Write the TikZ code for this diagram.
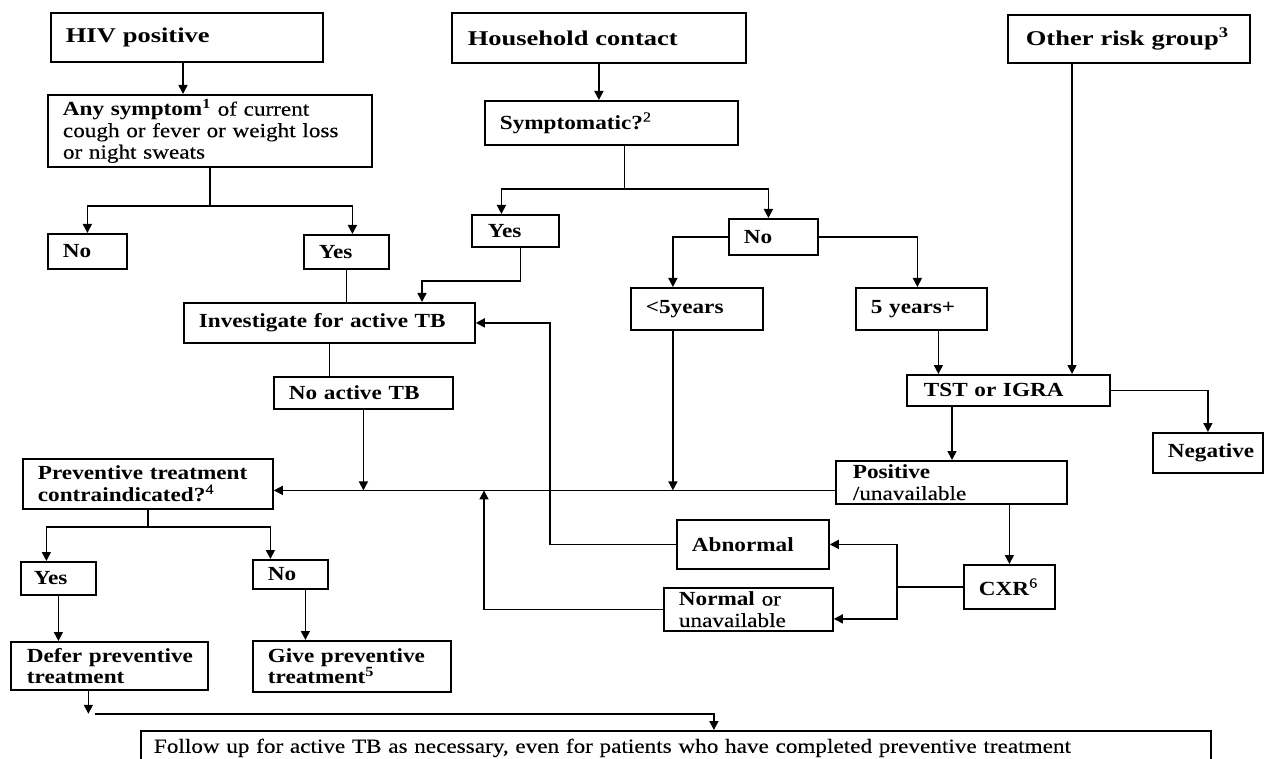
\documentclass[tikz,border=0pt]{standalone}
\usepackage{fontspec}
\setmainfont[FakeStretch=1.16,UprightFeatures={FakeBold=0.25}]{Liberation Serif}
\newfontfamily\headfont[FakeStretch=1.26,WordSpace=2]{Liberation Serif}
\usetikzlibrary{arrows.meta}
\newcommand\pd[1][15pt]{\hspace*{#1}}
\newcommand\bsz{\rmfamily\fontsize{20}{21.5}\selectfont}
\newcommand\hsz{\fontsize{21}{24}\selectfont}
\tikzset{
  bx/.style={draw, line width=1.8pt, anchor=north west, inner xsep=0pt, inner ysep=0pt,
             align=left, font=\bsz\bfseries},
  hd/.style={bx, font=\headfont\hsz\bfseries},
  rg/.style={font=\bsz},
  cn/.style={line width=1.6pt},
  ar/.style={cn, -{Triangle[length=9pt,width=9pt]}},
}
\begin{document}
\begin{tikzpicture}[x=1pt,y=-1pt]
\useasboundingbox (0,0) rectangle (1266,759);
\clip (0,0) rectangle (1266,759);

% top row
\node[hd, text width=272pt, minimum height=49pt] (hiv) at (50,12) {\pd HIV positive};
\node[hd, text width=294pt, minimum height=50pt] (hc) at (451,12) {\pd[16pt]Household contact};
\node[hd, text width=242pt, minimum height=48pt] (org) at (1007,14) {\pd[18pt]Other risk group\textsuperscript{3}};

% second row
\node[bx, rg, text width=324pt, minimum height=72pt] (sym1) at (47,94)
  {\pd\textbf{Any symptom\textsuperscript{1}} of current\\\pd cough or fever or weight loss\\\pd or night sweats};
\node[bx, text width=253pt, minimum height=44pt] (symp) at (484,100) {\pd Symptomatic?\textsuperscript{\mdseries 2}};

% third row
\node[bx, text width=79pt, minimum height=35pt] (no1) at (47,233) {\pd No};
\node[bx, text width=85pt, minimum height=34pt] (yes1) at (303,234) {\pd Yes};
\node[bx, text width=87pt, minimum height=32pt] (yes2) at (471,214) {\pd[16pt]Yes};
\node[bx, text width=89pt, minimum height=36pt] (no2) at (728,218) {\pd No};

% fourth row
\node[bx, text width=291pt, minimum height=40pt] (inv) at (183,302) {\pd Investigate for active TB};
\node[bx, text width=132pt, minimum height=42pt] (lt5) at (630,287) {\pd <5years};
\node[bx, text width=131pt, minimum height=42pt] (ge5) at (855,287) {\pd 5 years+};
\node[bx, text width=179pt, minimum height=32pt] (noact) at (273,376) {\pd No active TB};
\node[bx, text width=203pt, minimum height=31pt] (tst) at (906,374) {\pd[17pt]TST or IGRA};
\node[bx, text width=110pt, minimum height=40pt] (neg) at (1152,432) {\pd Negative};
\node[bx, text width=231pt, minimum height=43pt] (pos) at (835,460)
  {\pd[17pt]Positive\\\pd[17pt]\textmd{/unavailable}};
\node[bx, text width=250pt, minimum height=50pt] (prev) at (22,458)
  {\pd Preventive treatment\\\pd contraindicated?\textsuperscript{\mdseries 4}};

% lower part
\node[bx, text width=152pt, minimum height=49pt] (abn) at (676,519) {\pd Abnormal};
\node[bx, text width=169pt, minimum height=43pt] (norm) at (663,587)
  {\pd Normal \textmd{or}\\\pd\textmd{unavailable}};
\node[bx, text width=91pt, minimum height=44pt] (cxr) at (963,564) {\pd CXR\textsuperscript{\mdseries 6}};
\node[bx, text width=75pt, minimum height=33pt] (yes3) at (20,561) {\pd[13pt]Yes};
\node[bx, text width=75pt, minimum height=29pt] (no3) at (252,559) {\pd No};
\node[bx, text width=197pt, minimum height=48pt] (defer) at (10,641)
  {\pd[16pt]Defer preventive\\\pd[16pt]treatment};
\node[bx, text width=198pt, minimum height=51pt] (give) at (252,640)
  {\pd Give preventive\\\pd treatment\textsuperscript{5}};
\node[bx, rg, text width=1070pt, minimum height=34pt] (final) at (140,730)
  {\pd[13pt]Follow up for active TB as necessary, even for patients who have completed preventive treatment};

% ---------- connectors ----------
% HIV branch
\coordinate (h1) at ([xshift=133pt]hiv.south west);
\draw[ar] (h1) -- (h1 |- sym1.north);
\draw[cn] (sym1.south) -- ++(0,38) coordinate (j1);
\coordinate (yes1n) at ([xshift=6pt]yes1.north);
\draw[ar] (j1) -| (no1.north);
\draw[ar] (j1) -| (yes1n);
\draw[cn] (yes1.south) -- (yes1.south |- inv.north);

% Household contact branch
\draw[ar] (hc.south) -- (hc.south |- symp.north);
\coordinate (s1) at ([xshift=13pt]symp.south);
\draw[cn] (s1) -- ++(0,43) coordinate (j2);
\coordinate (yes2n) at ([xshift=-14pt]yes2.north);
\coordinate (no2n) at ([xshift=-5pt]no2.north);
\draw[ar] (j2) -| (yes2n);
\draw[ar] (j2) -| (no2n);
\coordinate (y2s) at ([xshift=5pt]yes2.south);
\coordinate (invn) at ([xshift=239pt]inv.north west);
\draw[ar] (y2s) -- ++(0,33) -| (invn);
\coordinate (lt5n) at ([xshift=-24pt]lt5.north);
\draw[ar] (no2.west) -| (lt5n);
\coordinate (ge5n) at ([xshift=-4pt]ge5.north);
\draw[ar] (no2.east) -| (ge5n);
\coordinate (ge5s) at ([xshift=17pt]ge5.south);
\draw[ar] (ge5s) -- (ge5s |- tst.north);

% Other risk group
\coordinate (o1) at ([xshift=65pt]org.south west);
\draw[ar] (o1) -- (o1 |- tst.north);

% TST
\draw[ar] (tst.east) -| (neg.north);
\coordinate (ts) at ([xshift=46pt]tst.south west);
\draw[ar] (ts) -- (ts |- pos.north);
\draw[ar] (cxr.north |- pos.south) -- (cxr.north);

% CXR
\draw[cn] (cxr.west) -- ++(-66,0) coordinate (cj);
\coordinate (nb) at ([yshift=-9.5pt]norm.east);
\draw[ar] (cj) |- (abn.east);
\draw[ar] (cj) |- (nb);
\coordinate (ai) at ([xshift=74pt]inv.east);
\draw[ar] (abn.west) -| (ai) -- (inv.east);

% main horizontal line
\coordinate (mj) at ([yshift=-8pt]pos.west);
\draw[ar] (mj) -- (mj -| prev.east);
\coordinate (nl) at ([xshift=-179pt]norm.west);
\draw[ar] (norm.west) -- (nl) -- (nl |- mj);
\draw[ar] (noact.south) -- (noact.south |- mj);
\coordinate (lt5s) at ([xshift=-24pt]lt5.south);
\draw[ar] (lt5s) -- (lt5s |- mj);
\draw[cn] (inv.south) -- (inv.south |- noact.north);

% preventive treatment
\draw[cn] (prev.south) -- ++(0,17) coordinate (pj);
\coordinate (yes3n) at ([xshift=-12pt]yes3.north);
\coordinate (no3n) at ([xshift=-20pt]no3.north);
\draw[ar] (pj) -| (yes3n);
\draw[ar] (pj) -| (no3n);
\draw[ar] (yes3.south) -- (yes3.south |- defer.north);
\coordinate (no3s) at ([xshift=15pt]no3.south);
\draw[ar] (no3s) -- (no3s |- give.north);

% follow up
\coordinate (ds) at ([xshift=-21pt]defer.south);
\coordinate (dt) at ([yshift=-23pt]ds);
\draw[ar] (ds) -- (dt);
\coordinate (fj) at ([xshift=38pt]final.north);
\draw[ar] ([xshift=7pt]dt) -| (fj);
\end{tikzpicture}
\end{document}
